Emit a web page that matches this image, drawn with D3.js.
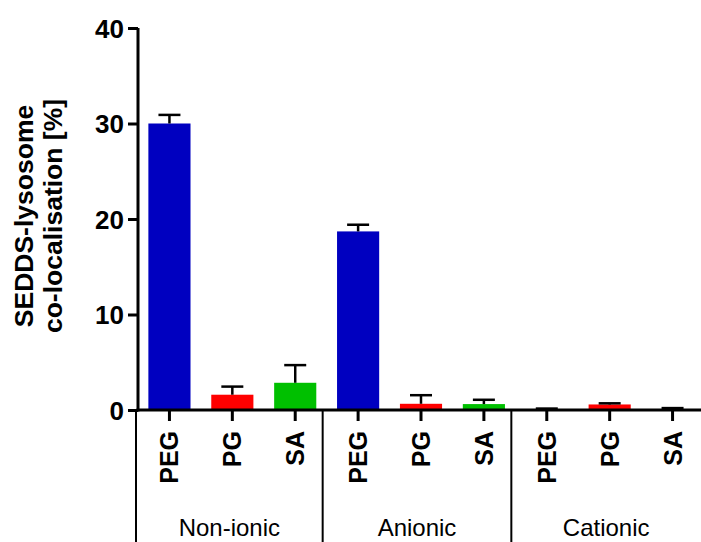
<!DOCTYPE html>
<html>
<head>
<meta charset="utf-8">
<script src="https://cdn.jsdelivr.net/npm/d3@7"></script>
<style>
  body { margin: 0; background: #fff; }
  svg { display: block; font-family: Arial, "Liberation Sans", sans-serif; }
</style>
</head>
<body>
<div id="chart"></div>
<script>
// Data
const groups = ["Non-ionic", "Anionic", "Cationic"];
const lipids = ["PEG", "PG", "SA"];
const means = [
  [30.0, 1.6, 2.85],   // Non-ionic
  [18.7, 0.65, 0.62],  // Anionic
  [0.05, 0.58, 0.05]   // Cationic
];
const errors = [
  [0.9, 0.85, 1.85],
  [0.7, 0.9, 0.45],
  [0.1, 0.12, 0.15]
];
const yTicks = [0, 10, 20, 30, 40];
const colors = { PEG: "#0000c0", PG: "#ff0000", SA: "#00c000" };

// Layout
const W = 701, H = 542;
const X0 = 138, X1 = 704;
const Y0 = 410, Y1 = 28;
const FONT = "Arial, 'Liberation Sans', sans-serif";

// Flatten rows
const rows = [];
groups.forEach((g, gi) => {
  lipids.forEach((l, li) => {
    rows.push({ key: g + "|" + l, group: g, lipid: l, value: means[gi][li], err: errors[gi][li] });
  });
});

const svg = d3.select("#chart").append("svg")
  .attr("width", W)
  .attr("height", H);

const x = d3.scaleBand()
  .domain(rows.map(d => d.key))
  .range([X0, X1])
  .paddingInner(0.33)
  .paddingOuter(0.165);

const y = d3.scaleLinear()
  .domain([0, 40])
  .range([Y0, Y1]);

// Bars
svg.append("g").selectAll("rect")
  .data(rows)
  .join("rect")
  .attr("x", d => x(d.key))
  .attr("width", x.bandwidth())
  .attr("y", d => y(d.value))
  .attr("height", d => y(0) - y(d.value))
  .attr("fill", d => colors[d.lipid]);

// Error bars (upper only)
const eb = svg.append("g").attr("stroke", "#000").attr("stroke-width", 2.5);
rows.forEach(d => {
  const cx = x(d.key) + x.bandwidth() / 2;
  const top = y(d.value + d.err);
  eb.append("line")
    .attr("x1", cx).attr("x2", cx)
    .attr("y1", y(d.value)).attr("y2", top);
  eb.append("line")
    .attr("x1", cx - 11).attr("x2", cx + 11)
    .attr("y1", top).attr("y2", top);
});

// Y axis
const yAxis = svg.append("g")
  .attr("transform", `translate(${X0},0)`)
  .call(d3.axisLeft(y).tickValues(yTicks).tickSize(10).tickPadding(4));
yAxis.select(".domain").attr("stroke-width", 3).attr("d", `M0,${Y1}V${Y0 + 1.5}`);
yAxis.selectAll(".tick line").attr("stroke-width", 3);
yAxis.selectAll(".tick text")
  .attr("font-size", 26)
  .attr("font-weight", "bold")
  .attr("font-family", FONT)
  .attr("fill", "#000")
  .attr("dy", "0.36em");

// X axis
const xAxis = svg.append("g")
  .attr("transform", `translate(0,${Y0})`)
  .call(d3.axisBottom(x).tickSize(11).tickFormat(k => k.split("|")[1]));
xAxis.select(".domain").attr("stroke-width", 3).attr("d", `M${X0 - 1.5},0H${W}`);
xAxis.selectAll(".tick line").attr("stroke-width", 3);
xAxis.selectAll(".tick text")
  .attr("font-size", 25)
  .attr("font-weight", "bold")
  .attr("font-family", FONT)
  .attr("fill", "#000")
  .attr("transform", "rotate(-90)")
  .attr("text-anchor", "end")
  .attr("x", -21)
  .attr("y", 0)
  .attr("dy", "0.36em");

// Group separators and labels
const sep = svg.append("g").attr("stroke", "#000").attr("stroke-width", 2);
const firstKey = gi => groups[gi] + "|" + lipids[0];
const lastKey = gi => groups[gi] + "|" + lipids[lipids.length - 1];
const sepX = [X0 - 2];
groups.forEach((g, gi) => {
  if (gi > 0) {
    sepX.push((x(lastKey(gi - 1)) + x.bandwidth() + x(firstKey(gi))) / 2 - 4);
  }
});
sepX.forEach(xs => {
  sep.append("line")
    .attr("x1", xs).attr("x2", xs)
    .attr("y1", Y0).attr("y2", H);
});
groups.forEach((g, gi) => {
  const right = gi + 1 < sepX.length ? sepX[gi + 1] : W;
  svg.append("text")
    .attr("x", (sepX[gi] + right) / 2)
    .attr("y", 536)
    .attr("text-anchor", "middle")
    .attr("font-size", 24)
    .attr("font-family", FONT)
    .attr("fill", "#000")
    .text(g);
});

// Y axis title
const title = svg.append("text")
  .attr("transform", "translate(33,216) rotate(-90)")
  .attr("text-anchor", "middle")
  .attr("font-size", 26.5)
  .attr("font-weight", "bold")
  .attr("font-family", FONT)
  .attr("fill", "#000");
title.append("tspan").attr("x", 0).attr("y", 0).text("SEDDS-lysosome");
title.append("tspan").attr("x", 0).attr("y", 29).text("co-localisation [%]");
</script>
</body>
</html>
